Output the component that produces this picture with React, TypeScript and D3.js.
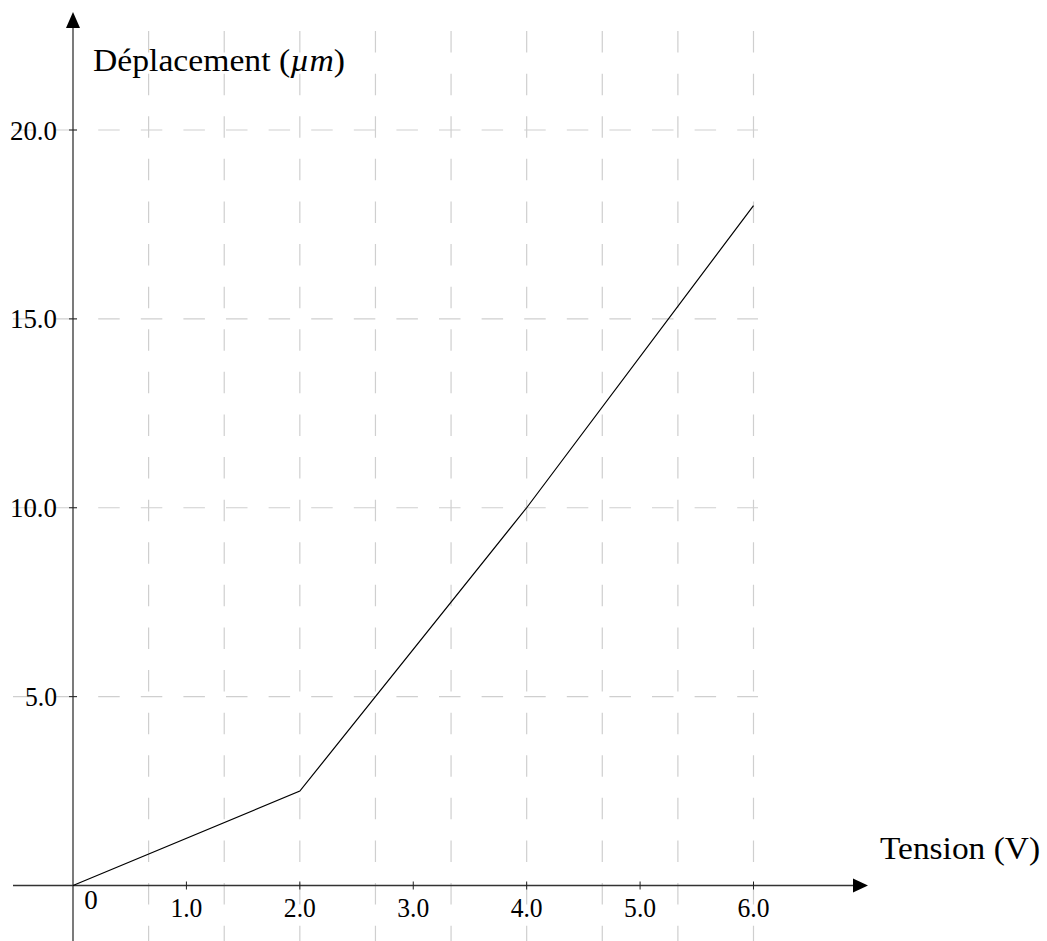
import React from "react";
import * as d3 from "d3";

const tensionV = [0, 2, 4, 6];
const deplacementUm = [0, 2.5, 10, 18];
const xTicks = [1, 2, 3, 4, 5, 6];
const xTickLabels = ["1.0", "2.0", "3.0", "4.0", "5.0", "6.0"];
const yTicks = [5, 10, 15, 20];
const yTickLabels = ["5.0", "10.0", "15.0", "20.0"];
const xGrid = [2 / 3, 4 / 3, 2, 8 / 3, 10 / 3, 4, 14 / 3, 16 / 3, 6];
const yGrid = [5, 10, 15, 20];

const W = 1047;
const H = 941;
const FONT = "'Liberation Serif', 'DejaVu Serif', serif";

export default function App() {
  const x = d3.scaleLinear().domain([0, 6]).range([73, 753.5]);
  const y = d3.scaleLinear().domain([0, 20]).range([885.5, 130]);

  const gridXMin = x(-0.529);
  const gridXMax = x(6.04);
  const gridYTop = y(22.62);
  const gridYBottom = y(-1.6);

  const line = d3
    .line<number>()
    .x((_, i) => x(tensionV[i]))
    .y((d) => y(d));

  const x0 = x(0);
  const y0 = y(0);
  const dash = "21.5 21.1";

  return (
    <svg
      width={W}
      height={H}
      style={{ position: "absolute", left: 0, top: 0, background: "#fff" }}
    >
      {/* grid */}
      <g stroke="#cfcfcf" strokeWidth={1.2} fill="none">
        {xGrid.map((g, i) => (
          <line
            key={"vx" + i}
            x1={x(g)}
            x2={x(g)}
            y1={gridYTop}
            y2={gridYBottom}
            strokeDasharray={dash}
          />
        ))}
        {yGrid.map((g, i) => (
          <line
            key={"hy" + i}
            x1={gridXMin}
            x2={gridXMax}
            y1={y(g)}
            y2={y(g)}
            strokeDasharray={dash}
          />
        ))}
      </g>

      {/* axes */}
      <g stroke="#333" strokeWidth={1.3}>
        <line x1={13} x2={858} y1={y0} y2={y0} />
        <line x1={x0} x2={x0} y1={945} y2={24} />
      </g>
      <path
        d={`M868,${y0} L853,${y0 - 7} L853,${y0 + 7} Z`}
        fill="#000"
      />
      <path d={`M${x0},12 L${x0 - 7},28 L${x0 + 7},28 Z`} fill="#000" />

      {/* ticks */}
      <g stroke="#222" strokeWidth={1}>
        {xTicks.map((t, i) => (
          <line key={"xt" + i} x1={x(t)} x2={x(t)} y1={y0 - 4} y2={y0 + 4} />
        ))}
        {yTicks.map((t, i) => (
          <line key={"yt" + i} x1={x0 - 4} x2={x0 + 4} y1={y(t)} y2={y(t)} />
        ))}
      </g>

      {/* data line */}
      <path
        d={line(deplacementUm) || ""}
        fill="none"
        stroke="#000"
        strokeWidth={1.2}
      />

      {/* tick labels */}
      <g fontFamily={FONT} fontSize={27} fill="#000">
        {xTicks.map((t, i) => (
          <text
            key={"xl" + i}
            x={x(t)}
            y={917}
            textAnchor="middle"
            textLength={32}
            lengthAdjust="spacingAndGlyphs"
          >
            {xTickLabels[i]}
          </text>
        ))}
        {yTicks.map((t, i) => (
          <text
            key={"yl" + i}
            x={57}
            y={y(t) + 9.5}
            textAnchor="end"
            textLength={yTickLabels[i].length === 4 ? 47 : 32}
            lengthAdjust="spacingAndGlyphs"
          >
            {yTickLabels[i]}
          </text>
        ))}
        <text x={91} y={909} textAnchor="middle">
          0
        </text>
      </g>

      {/* axis labels */}
      <g fontFamily={FONT} fontSize={32} fill="#000">
        <text x={880} y={859} textLength={160} lengthAdjust="spacingAndGlyphs">
          Tension (V)
        </text>
        <text x={93} y={71} textLength={252} lengthAdjust="spacingAndGlyphs">
          Déplacement (<tspan fontStyle="italic">µm</tspan>)
        </text>
      </g>
    </svg>
  );
}
